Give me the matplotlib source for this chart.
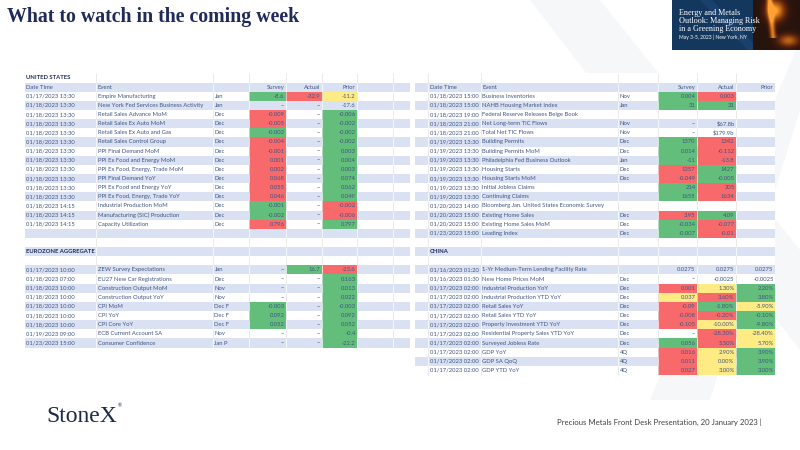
import numpy as np
import matplotlib
matplotlib.use("Agg")
import matplotlib.pyplot as plt
from matplotlib.patches import Rectangle, Polygon

# ---------------- data ----------------
TITLE = "What to watch in the coming week"
FOOTER = "Precious Metals Front Desk Presentation, 20 January 2023 |"
BANNER_LINES = ["Energy and Metals", "Outlook: Managing Risk", "in a Greening Economy"]
BANNER_DATE = "May 3-5, 2023 | New York, NY"
HEADERS = ["Date Time", "Event", "", "Survey", "Actual", "Prior"]
SECTIONS = ["UNITED STATES", "EUROZONE AGGREGATE", "CHINA"]

# United States (left block)
us1_dates = ["01/17/2023 13:30", "01/18/2023 13:30", "01/18/2023 13:30", "01/18/2023 13:30",
             "01/18/2023 13:30", "01/18/2023 13:30", "01/18/2023 13:30", "01/18/2023 13:30",
             "01/18/2023 13:30", "01/18/2023 13:30", "01/18/2023 13:30", "01/18/2023 13:30",
             "01/18/2023 14:15", "01/18/2023 14:15", "01/18/2023 14:15"]
us1_events = ["Empire Manufacturing", "New York Fed Services Business Activity",
              "Retail Sales Advance MoM", "Retail Sales Ex Auto MoM", "Retail Sales Ex Auto and Gas",
              "Retail Sales Control Group", "PPI Final Demand MoM", "PPI Ex Food and Energy MoM",
              "PPI Ex Food, Energy, Trade MoM", "PPI Final Demand YoY", "PPI Ex Food and Energy YoY",
              "PPI Ex Food, Energy, Trade YoY", "Industrial Production MoM",
              "Manufacturing (SIC) Production", "Capacity Utilization"]
us1_periods = ["Jan", "Jan"] + ["Dec"] * 13
us1_survey = ["-8.6", "--", "-0.009", "-0.005", "-0.002", "-0.004", "-0.001", "0.001", "0.002",
              "0.068", "0.055", "0.046", "-0.001", "-0.002", "0.796"]
us1_actual = ["-32.9"] + ["--"] * 14
us1_prior = ["-11.2", "-17.6", "-0.006", "-0.002", "-0.002", "-0.002", "0.003", "0.004", "0.003",
             "0.074", "0.062", "0.049", "-0.002", "-0.006", "0.797"]
us1_survey_scale = ["G", "", "R", "R", "G", "R", "R", "R", "R", "R", "R", "R", "G", "G", "R"]
us1_actual_scale = ["R"] + [""] * 14
us1_prior_scale = ["Y", "", "G", "G", "G", "G", "G", "G", "G", "G", "G", "G", "R", "R", "G"]

# Eurozone
ez_dates = ["01/17/2023 10:00", "01/18/2023 07:00", "01/18/2023 10:00", "01/18/2023 10:00",
            "01/18/2023 10:00", "01/18/2023 10:00", "01/18/2023 10:00", "01/19/2023 09:00",
            "01/23/2023 15:00"]
ez_events = ["ZEW Survey Expectations", "EU27 New Car Registrations", "Construction Output MoM",
             "Construction Output YoY", "CPI MoM", "CPI YoY", "CPI Core YoY",
             "ECB Current Account SA", "Consumer Confidence"]
ez_periods = ["Jan", "Dec", "Nov", "Nov", "Dec F", "Dec F", "Dec F", "Nov", "Jan P"]
ez_survey = ["--", "--", "--", "--", "-0.003", "0.092", "0.052", "--", "--"]
ez_actual = ["16.7", "--", "--", "--", "--", "--", "--", "--", "--"]
ez_prior = ["-23.6", "0.163", "0.013", "0.022", "-0.003", "0.092", "0.052", "-0.4", "-22.2"]
ez_survey_scale = ["", "", "", "", "G", "G", "G", "", ""]
ez_actual_scale = ["G", "", "", "", "", "", "", "", ""]
ez_prior_scale = ["R", "G", "G", "G", "G", "G", "G", "G", "G"]

# United States (right block)
us2_dates = ["01/18/2023 15:00", "01/18/2023 15:00", "01/18/2023 19:00", "01/18/2023 21:00",
             "01/18/2023 21:00", "01/19/2023 13:30", "01/19/2023 13:30", "01/19/2023 13:30",
             "01/19/2023 13:30", "01/19/2023 13:30", "01/19/2023 13:30", "01/19/2023 13:30",
             "01/20/2023 14:00", "01/20/2023 15:00", "01/20/2023 15:00", "01/23/2023 15:00"]
us2_events = ["Business Inventories", "NAHB Housing Market Index", "Federal Reserve Releases Beige Book",
              "Net Long-term TIC Flows", "Total Net TIC Flows", "Building Permits",
              "Building Permits MoM", "Philadelphia Fed Business Outlook", "Housing Starts",
              "Housing Starts MoM", "Initial Jobless Claims", "Continuing Claims",
              "Bloomberg Jan. United States Economic Survey", "Existing Home Sales",
              "Existing Home Sales MoM", "Leading Index"]
us2_periods = ["Nov", "Jan", "", "Nov", "Nov", "Dec", "Dec", "Jan", "Dec", "Dec", "", "", "",
               "Dec", "Dec", "Dec"]
us2_survey = ["0.004", "31", "", "--", "--", "1370", "0.014", "-11", "1357", "-0.049", "214",
              "1655", "", "3.95", "-0.034", "-0.007"]
us2_actual = ["0.003", "31", "", "$67.8b", "$179.9b", "1342", "-0.112", "-13.8", "1427", "-0.005",
              "205", "1634", "", "4.09", "-0.077", "-0.01"]
us2_prior = [""] * 16
us2_survey_scale = ["G", "G", "", "", "", "G", "G", "G", "R", "R", "G", "G", "", "R", "G", "G"]
us2_actual_scale = ["R", "G", "", "", "", "R", "R", "R", "G", "G", "R", "R", "", "G", "R", "R"]
us2_prior_scale = [""] * 16

# China
cn_dates = ["01/16/2023 01:20", "01/16/2023 01:30"] + ["01/17/2023 02:00"] * 10
cn_events = ["1-Yr Medium-Term Lending Facility Rate", "New Home Prices MoM",
             "Industrial Production YoY", "Industrial Production YTD YoY", "Retail Sales YoY",
             "Retail Sales YTD YoY", "Property Investment YTD YoY",
             "Residential Property Sales YTD YoY", "Surveyed Jobless Rate", "GDP YoY",
             "GDP SA QoQ", "GDP YTD YoY"]
cn_periods = ["", "Dec", "Dec", "Dec", "Dec", "Dec", "Dec", "Dec", "Dec", "4Q", "4Q", "4Q"]
cn_survey = ["0.0275", "--", "0.001", "0.037", "-0.09", "-0.008", "-0.105", "--", "0.056",
             "0.016", "0.011", "0.027"]
cn_actual = ["0.0275", "-0.0025", "1.30%", "3.60%", "-1.80%", "-0.20%", "-10.00%", "-28.30%",
             "5.50%", "2.90%", "0.00%", "3.00%"]
cn_prior = ["0.0275", "-0.0025", "2.20%", "3.80%", "-5.90%", "-0.10%", "-9.80%", "-28.40%",
            "5.70%", "3.90%", "3.90%", "3.00%"]
cn_survey_scale = ["", "", "R", "Y", "R", "R", "R", "", "G", "R", "R", "R"]
cn_actual_scale = ["", "", "Y", "R", "G", "R", "Y", "R", "R", "Y", "Y", "Y"]
cn_prior_scale = ["", "", "G", "G", "Y", "G", "G", "Y", "Y", "G", "G", "G"]

# ---------------- style ----------------
SCALE_COLORS = {"G": "#63BE7B", "R": "#F8696B", "Y": "#FFEB84"}
SHADE = "#D9E1F2"
TXT = "#3F5583"
NAVY = "#1F2B5B"
FONT = ["Lato", "DejaVu Sans"]
SERIF = ["Liberation Serif", "DejaVu Serif"]
FS = 4.2
ROW_H = 9.14
ROW_TOP0 = 73.4


def data_rows(dates, events, periods, sv, ac, pr, svc, acc, prc):
    out = []
    for i in range(len(dates)):
        out.append(("data", dates[i], events[i], periods[i], (sv[i], ac[i], pr[i]),
                    (svc[i], acc[i], prc[i])))
    return out


left_rows = ([("section", SECTIONS[0]), ("header",)]
             + data_rows(us1_dates, us1_events, us1_periods, us1_survey, us1_actual, us1_prior,
                         us1_survey_scale, us1_actual_scale, us1_prior_scale)
             + [("blank",), ("blank",), ("section", SECTIONS[1]), ("blank",)]
             + data_rows(ez_dates, ez_events, ez_periods, ez_survey, ez_actual, ez_prior,
                         ez_survey_scale, ez_actual_scale, ez_prior_scale))
right_rows = ([("blank",), ("header",)]
              + data_rows(us2_dates, us2_events, us2_periods, us2_survey, us2_actual, us2_prior,
                          us2_survey_scale, us2_actual_scale, us2_prior_scale)
              + [("blank",), ("section", SECTIONS[2]), ("blank",)]
              + data_rows(cn_dates, cn_events, cn_periods, cn_survey, cn_actual, cn_prior,
                          cn_survey_scale, cn_actual_scale, cn_prior_scale))

fig = plt.figure(figsize=(8, 4.5), dpi=100)
ax = fig.add_axes([0, 0, 1, 1])
ax.set_xlim(0, 800)
ax.set_ylim(450, 0)
ax.axis("off")

# faint watermark X
wm = "#F6F7F9"
ax.add_patch(Polygon([(530, 0), (600, 0), (800, 250), (800, 350)], closed=True, fc=wm, ec="none", zorder=0))
ax.add_patch(Polygon([(800, 40), (800, 110), (710, 400), (650, 400)], closed=True, fc=wm, ec="none", zorder=0))


def draw_table(rows, edges, first):
    x_left, x_right = edges[0], edges[-1]
    c = edges[first:]
    for i, row in enumerate(rows):
        top = ROW_TOP0 + i * ROW_H
        yc = top + ROW_H / 2
        shaded = (i % 2 == 1)
        ax.add_patch(Rectangle((x_left, top), x_right - x_left, ROW_H,
                               fc=SHADE if shaded else "white", ec="none", zorder=1))
        kind = row[0]
        if kind == "data":
            for k, (val, sc) in enumerate(zip(row[4], row[5])):
                if sc:
                    ax.add_patch(Rectangle((c[3 + k], top), c[4 + k] - c[3 + k], ROW_H,
                                           fc=SCALE_COLORS[sc], ec="none", zorder=2))
        for e in edges[1:-1]:
            ax.plot([e, e], [top, top + ROW_H], color="white" if shaded else "#E2E2E2",
                    lw=0.5, zorder=3, solid_capstyle="butt")
        if kind == "section":
            ax.text(c[0] + 1.5, yc, row[1], fontsize=FS, color=NAVY, fontweight="bold",
                    family=FONT, va="center", ha="left", zorder=4)
        elif kind == "header":
            for k in range(3):
                ax.text(c[k] + 1.5, yc, HEADERS[k], fontsize=FS, color=TXT, family=FONT,
                        va="center", ha="left", zorder=4)
            for k in range(3, 6):
                ax.text(c[k + 1] - 1.5, yc, HEADERS[k], fontsize=FS, color=TXT, family=FONT,
                        va="center", ha="right", zorder=4)
        elif kind == "data":
            for k in range(3):
                ax.text(c[k] + 1.5, yc, row[1 + k], fontsize=FS, color=TXT, family=FONT,
                        va="center", ha="left", zorder=4)
            for k, val in enumerate(row[4]):
                if val:
                    ax.text(c[4 + k] - 1.5, yc, val, fontsize=FS, color=TXT, family=FONT,
                            va="center", ha="right", zorder=4)


draw_table(left_rows, [25, 96, 213, 249, 286, 322, 357, 393, 410], 0)
draw_table(right_rows, [415, 428, 481, 618, 658, 697, 736, 775], 1)

# title
ax.text(7, 17, TITLE, fontsize=14.3, fontweight="bold", color=NAVY,
        family=SERIF, va="center", ha="left")

# banner
ax.add_patch(Rectangle((672, 0), 128, 50, fc="#14375E", ec="none", zorder=5))
ax.add_patch(Polygon([(700, 0), (712, 0), (760, 50), (748, 50)], closed=True,
                     fc="#1B406B", ec="none", zorder=5))
yy, xx = np.mgrid[0:50, 0:47]
glow = np.exp(-(((xx - 22) / 9.0) ** 2 + ((yy - 10) / 10.0) ** 2))
stream = np.exp(-((xx - 16 - 0.1 * yy) / 3.0) ** 2) * (yy < 38)
lower = np.exp(-(((xx - 35) / 10.0) ** 2 + ((yy - 40) / 6.0) ** 2))
inten = np.clip(glow + 0.8 * stream + 0.7 * lower, 0, 1)
img = np.zeros((50, 47, 3))
img[..., 0] = 0.15 + 0.85 * inten
img[..., 1] = 0.08 + 0.55 * inten ** 1.5
img[..., 2] = 0.05 + 0.15 * inten ** 3
ax.imshow(img, extent=(753, 800, 50, 0), zorder=6, aspect="auto", interpolation="bilinear")
for j, line in enumerate(BANNER_LINES):
    ax.text(679, 13 + j * 8.2, line, fontsize=5.9, color="white",
            family=SERIF, va="center", ha="left", zorder=7)
ax.text(679, 37, BANNER_DATE, fontsize=3.6, color="white", family=FONT,
        va="center", ha="left", zorder=7)

# footer
ax.text(46, 416, "StoneX", fontsize=17, color="#1C2A48",
        family=SERIF, va="center", ha="left")
ax.text(118, 406, "\u00ae", fontsize=3.5, color="#1C2A48", family=FONT, va="center", ha="left")
ax.text(762, 422, FOOTER, fontsize=5.6, color="#404040", family=FONT, va="center", ha="right")

fig.savefig("out.png", dpi=100)
